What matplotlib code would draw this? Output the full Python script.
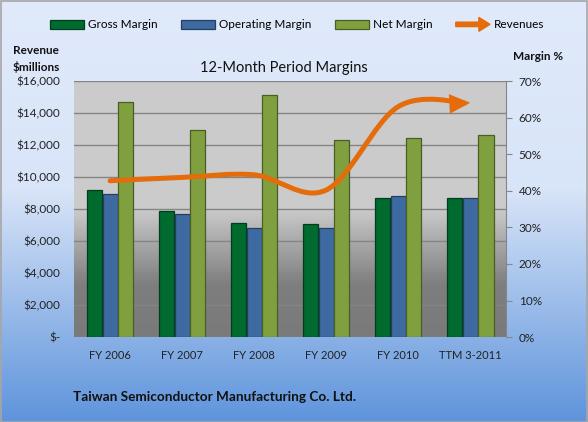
import numpy as np
import matplotlib
matplotlib.use('Agg')
import matplotlib.pyplot as plt
import matplotlib.patches as mpatches
from matplotlib.path import Path
from matplotlib.colors import LinearSegmentedColormap
from matplotlib.ticker import FuncFormatter, PercentFormatter
from matplotlib.legend_handler import HandlerPatch

# values
categories = ['FY 2006', 'FY 2007', 'FY 2008', 'FY 2009', 'FY 2010', 'TTM 3-2011']
gross_margin = [40.1, 34.5, 31.2, 31.0, 37.9, 37.9]       # %
operating_margin = [39.2, 33.7, 29.8, 29.9, 38.5, 37.9]   # %
net_margin = [64.3, 56.7, 66.3, 53.9, 54.5, 55.3]         # %
revenues = [9770, 9980, 10140, 9190, 14400, 14640]        # $ millions

colors = {
    'Gross Margin': ('#006B2E', '#003d1a'),
    'Operating Margin': ('#3D6AA1', '#263f61'),
    'Net Margin': ('#80A040', '#4a5e24'),
}
orange = '#E46C0A'

plt.rcParams['font.family'] = ['Lato', 'DejaVu Sans']

fig = plt.figure(figsize=(5.88, 4.22), dpi=100)

# figure background gradient + border
bg = fig.add_axes([0, 0, 1, 1], zorder=-10)
cmap_fig = LinearSegmentedColormap.from_list(
    'figbg', [(0, '#5e94dc'), (0.55, '#d8e4f8'), (1, '#e0eafb')])
bg.imshow(np.linspace(0, 1, 256).reshape(-1, 1), cmap=cmap_fig, origin='lower',
          aspect='auto', extent=(0, 1, 0, 1))
bg.set_xlim(0, 1)
bg.set_ylim(0, 1)
bg.axis('off')
bg.add_patch(mpatches.Rectangle((0.001, 0.001), 0.997, 0.996, fill=False,
                                ec='#a6a6a6', lw=1.2))

pos = [0.126, 0.201, 0.735, 0.607]

# plot area gradient + gridlines (revenue scale)
pbg = fig.add_axes(pos, zorder=0)
cmap_plot = LinearSegmentedColormap.from_list(
    'plotbg', [(0, '#7a7a7a'), (0.2, '#7e7e7e'), (0.5, '#cbcbcb'), (1, '#cccccc')])
pbg.imshow(np.linspace(0, 1, 256).reshape(-1, 1), cmap=cmap_plot, origin='lower',
           aspect='auto', extent=(0, 1, 0, 16000))
pbg.set_xlim(0, 1)
pbg.set_ylim(0, 16000)
pbg.set_yticks(np.arange(0, 16001, 2000))
pbg.grid(axis='y', color='#858585', lw=1)
pbg.tick_params(left=False, bottom=False, labelleft=False, labelbottom=False)
for s in pbg.spines.values():
    s.set_visible(False)

# bars on the margin (right) axis
ax = fig.add_axes(pos, zorder=1)
ax.patch.set_visible(False)
x = np.arange(len(categories))
w = 0.21
off = 0.218
for series, shift, label in [(gross_margin, -off, 'Gross Margin'),
                             (operating_margin, 0, 'Operating Margin'),
                             (net_margin, off, 'Net Margin')]:
    fc, ec = colors[label]
    ax.bar(x + shift, series, w, color=fc, edgecolor=ec, lw=0.9, label=label)

ax.set_xlim(-0.5, len(categories) - 0.5)
ax.set_ylim(0, 70)
ax.set_yticks(range(0, 71, 10))
ax.yaxis.set_major_formatter(PercentFormatter(decimals=0))
ax.yaxis.tick_right()
ax.set_xticks(x, categories)
ax.tick_params(axis='x', length=0, pad=9, labelsize=8, labelcolor='#222222')
ax.tick_params(axis='y', direction='out', length=4, color='#868686', pad=5,
               labelsize=8.5, labelcolor='#222222')
for side in ['left', 'top', 'bottom']:
    ax.spines[side].set_visible(False)
ax.spines['right'].set_color('#868686')

# revenue line on the left axis
ax2 = fig.add_axes(pos, zorder=2, sharex=ax)
ax2.patch.set_visible(False)
ax2.xaxis.set_visible(False)
ax2.set_ylim(0, 16000)
ax2.set_yticks(np.arange(0, 16001, 2000))
ax2.yaxis.set_major_formatter(FuncFormatter(lambda v, p: '$-' if v == 0 else f'${v:,.0f}'))
ax2.tick_params(axis='y', length=0, pad=10, labelsize=8.5, labelcolor='#222222')
for s in ax2.spines.values():
    s.set_visible(False)

# smooth curve through the revenue points (bezier, like Excel smoothing)
pts = np.column_stack([x, revenues]).astype(float)
n = len(pts)
verts = [pts[0]]
codes = [Path.MOVETO]
for i in range(n - 1):
    p_prev = pts[i - 1] if i > 0 else pts[i]
    p_next2 = pts[i + 2] if i + 2 < n else pts[i + 1]
    c1 = pts[i] + (pts[i + 1] - p_prev) / 6
    c2 = pts[i + 1] - (p_next2 - pts[i]) / 6
    verts += [c1, c2, pts[i + 1]]
    codes += [Path.CURVE4] * 3
curve = mpatches.FancyArrowPatch(path=Path(verts, codes),
                                 arrowstyle='-|>,head_length=0.9,head_width=0.42',
                                 mutation_scale=10, lw=3.6, color=orange,
                                 joinstyle='miter', capstyle='round')
ax2.add_patch(curve)

# labels
fig.text(0.5 * (74 + 506) / 588 - 0.01, 1 - 68 / 422, '12-Month Period Margins',
         ha='center', va='center', fontsize=10.5, color='#111111')
fig.text(13 / 588, 1 - 51 / 422, 'Revenue', ha='left', va='center',
         fontsize=8.5, fontweight='bold', color='#111111')
fig.text(13 / 588, 1 - 67 / 422, '$millions', ha='left', va='center',
         fontsize=8.5, fontweight='bold', color='#111111')
fig.text(513 / 588, 1 - 56 / 422, 'Margin %', ha='left', va='center',
         fontsize=8.5, fontweight='bold', color='#111111')
fig.text(73 / 588, 1 - 397 / 422, 'Taiwan Semiconductor Manufacturing Co. Ltd.',
         ha='left', va='center', fontsize=9.8, fontweight='bold', color='#111111')


# legend with an arrow for the revenue line
def make_arrow(legend, orig_handle, xdescent, ydescent, width, height, fontsize):
    return mpatches.FancyArrow(0, height / 2, width, 0, width=3.2, head_width=10,
                               head_length=8, length_includes_head=True,
                               color=orange)


arrow_proxy = mpatches.Patch(color=orange, label='Revenues')
handles, labels = ax.get_legend_handles_labels()
handles.append(arrow_proxy)
labels.append('Revenues')
fig.legend(handles, labels, loc='center', bbox_to_anchor=(0.505, 1 - 25 / 422),
           ncol=4, frameon=False, fontsize=8.5, handlelength=2.9,
           handletextpad=0.3, columnspacing=2.0,
           handler_map={arrow_proxy: HandlerPatch(patch_func=make_arrow)})

fig.savefig('out.png', dpi=100)
